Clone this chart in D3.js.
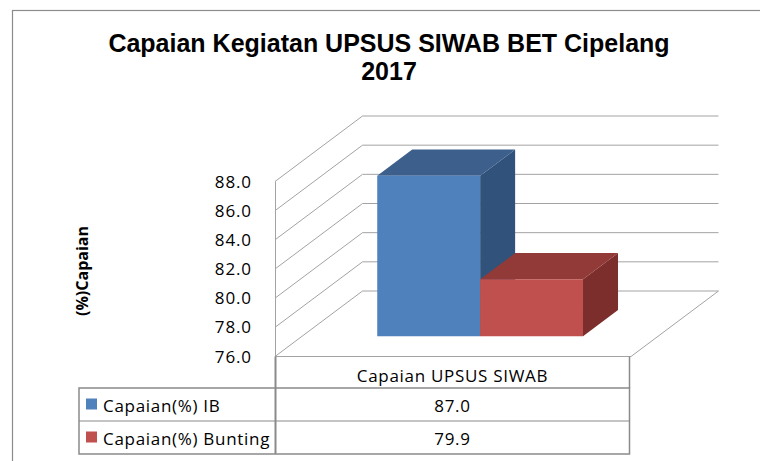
<!DOCTYPE html>
<html>
<head>
<meta charset="utf-8">
<script src="https://cdn.jsdelivr.net/npm/d3@7"></script>
<style>
  html, body { margin: 0; padding: 0; background: #fff; }
  svg { display: block; }
</style>
</head>
<body>
<div id="chart"></div>
<script>
    // data
    const categories = ["Capaian UPSUS SIWAB"];
    const series_names = ["Capaian(%) IB", "Capaian(%) Bunting"];
    const series_values = [87.0, 79.9];
    const y_ticks = [76, 78, 80, 82, 84, 86, 88];

    const width = 760, height = 461;
    const front_col = ["#4f81bd", "#c0504d"];
    const top_col = ["#3c5f8c", "#923a37"];
    const side_col = ["#31527b", "#7c2e2c"];
    const grid_col = "#a3a3a3";
    const body_font = "'Open Sans', 'DejaVu Sans', sans-serif";

    const svg = d3.select('#chart').append('svg')
        .attr('width', width).attr('height', height);

    // chart frame (runs off the right / bottom)
    svg.append('rect')
        .attr('x', 12.5).attr('y', 10.5)
        .attr('width', 760).attr('height', 460)
        .attr('fill', 'none').attr('stroke', '#8c8c8c').attr('stroke-width', 1.2);

    // title
    const title = svg.append('text')
        .attr('text-anchor', 'middle')
        .style('font-family', "'Liberation Sans', Arial, sans-serif")
        .style('font-weight', 'bold').style('font-size', '25px')
        .attr('fill', '#000');
    title.append('tspan').attr('x', 389).attr('y', 52).text("Capaian Kegiatan UPSUS SIWAB BET Cipelang");
    title.append('tspan').attr('x', 389).attr('y', 80).text("2017");

    // scales
    const y = d3.scaleLinear().domain([76, 88]).range([356.5, 181.5]);
    const x0 = d3.scaleBand().domain(categories).range([275, 631]).paddingOuter(0.365).paddingInner(0);
    const x1 = d3.scaleBand().domain(series_names).range([0, x0.bandwidth()]).padding(0);
    const depth_dx = 87.5, depth_dy = -65.5;
    const depth = d3.scaleLinear().domain([0, 1]).range([0, 1]);
    const px = (x, v, d) => x + depth(d) * depth_dx;
    const py = (x, v, d) => y(v) + depth(d) * depth_dy;

    const x_left = x0.range()[0], x_right = x0.range()[1];
    const g_grid = svg.append('g').attr('stroke', grid_col).attr('stroke-width', 1).attr('fill', 'none');

    // back wall gridlines
    g_grid.selectAll('line.back').data(y_ticks).enter().append('line')
        .attr('class', 'back')
        .attr('x1', px(x_left, 0, 1)).attr('x2', px(x_right, 0, 1))
        .attr('y1', d => py(0, d, 1)).attr('y2', d => py(0, d, 1));
    // side wall gridlines
    g_grid.selectAll('line.side').data(y_ticks).enter().append('line')
        .attr('class', 'side')
        .attr('x1', x_left).attr('x2', px(x_left, 0, 1))
        .attr('y1', d => py(0, d, 0)).attr('y2', d => py(0, d, 1));
    // side wall front edge
    g_grid.append('line')
        .attr('x1', x_left + 0.5).attr('x2', x_left + 0.5)
        .attr('y1', y(d3.max(y_ticks))).attr('y2', y(d3.min(y_ticks)));
    // floor front + right edge
    g_grid.append('path')
        .attr('d', d3.line()([
            [x_left, y(76)], [x_right, y(76)], [px(x_right, 76, 1), py(0, 76, 1)]
        ]));

    // bars
    const d_front = 0.31, d_back = 0.71;
    const g_bars = svg.append('g');
    series_names.forEach((s, i) => {
        const xa = x0(categories[0]) + x1(s);
        const xb = xa + x1.bandwidth();
        const v = series_values[i];
        const base = d3.min(y_ticks);
        const pt = (x, val, d) => [px(x, val, d), py(x, val, d)];
        // side face
        g_bars.append('path')
            .attr('d', d3.line()([pt(xb, base, d_front), pt(xb, v, d_front), pt(xb, v, d_back), pt(xb, base, d_back)]) + 'Z')
            .attr('fill', side_col[i]);
        // top face
        g_bars.append('path')
            .attr('d', d3.line()([pt(xa, v, d_front), pt(xb, v, d_front), pt(xb, v, d_back), pt(xa, v, d_back)]) + 'Z')
            .attr('fill', top_col[i]);
        // front face
        g_bars.append('path')
            .attr('d', d3.line()([pt(xa, base, d_front), pt(xa, v, d_front), pt(xb, v, d_front), pt(xb, base, d_front)]) + 'Z')
            .attr('fill', front_col[i]);
    });

    // y tick labels
    svg.append('g').selectAll('text').data(y_ticks).enter().append('text')
        .attr('x', 252).attr('y', d => y(d)).attr('dy', '0.36em')
        .attr('text-anchor', 'end')
        .style('font-family', body_font).style('font-size', '17px')
        .style('letter-spacing', '0.9px')
        .attr('fill', '#000')
        .text(d => d.toFixed(1));

    // y title
    svg.append('text')
        .attr('transform', 'translate(82, 271) rotate(-90)')
        .attr('text-anchor', 'middle').attr('dy', '0.35em')
        .style('font-family', body_font).style('font-size', '16px').style('font-weight', 'bold')
        .attr('fill', '#000')
        .text("(%)Capaian");

    // data table
    const tbl_left = 79, tbl_mid = 275.5, tbl_right = 629.5;
    const row_tops = [388, 421, 454];
    const g_tbl = svg.append('g').attr('stroke', '#8a8a8a').attr('fill', 'none');
    g_tbl.append('rect')
        .attr('x', tbl_left).attr('y', row_tops[0])
        .attr('width', tbl_right - tbl_left).attr('height', row_tops[2] - row_tops[0])
        .attr('stroke-width', 1.5);
    g_tbl.append('line').attr('x1', tbl_left).attr('x2', tbl_right)
        .attr('y1', row_tops[1]).attr('y2', row_tops[1]).attr('stroke-width', 1.2);
    g_tbl.append('line').attr('x1', tbl_mid).attr('x2', tbl_mid)
        .attr('y1', y(76)).attr('y2', row_tops[2]).attr('stroke-width', 2);
    g_tbl.append('line').attr('x1', tbl_right).attr('x2', tbl_right)
        .attr('y1', y(76)).attr('y2', row_tops[0]).attr('stroke-width', 1.5);

    const tbl_text = (sel) => sel.style('font-family', body_font).style('font-size', '17px')
        .style('letter-spacing', '0.7px').attr('fill', '#000');

    svg.append('text').call(tbl_text)
        .attr('x', (tbl_mid + tbl_right) / 2).attr('y', 382).attr('text-anchor', 'middle')
        .text(categories[0]);

    const rows = svg.append('g').selectAll('g').data(series_names).enter().append('g');
    rows.append('rect')
        .attr('x', 86).attr('y', (d, i) => row_tops[i] + 10.5)
        .attr('width', 11).attr('height', 11)
        .attr('fill', (d, i) => front_col[i]);
    rows.append('text').call(tbl_text)
        .attr('x', 103).attr('y', (d, i) => row_tops[i] + 23.5)
        .text(d => d);
    rows.append('text').call(tbl_text)
        .attr('x', (tbl_mid + tbl_right) / 2).attr('y', (d, i) => row_tops[i] + 23.5)
        .attr('text-anchor', 'middle')
        .text((d, i) => series_values[i].toFixed(1));
</script>
</body>
</html>
